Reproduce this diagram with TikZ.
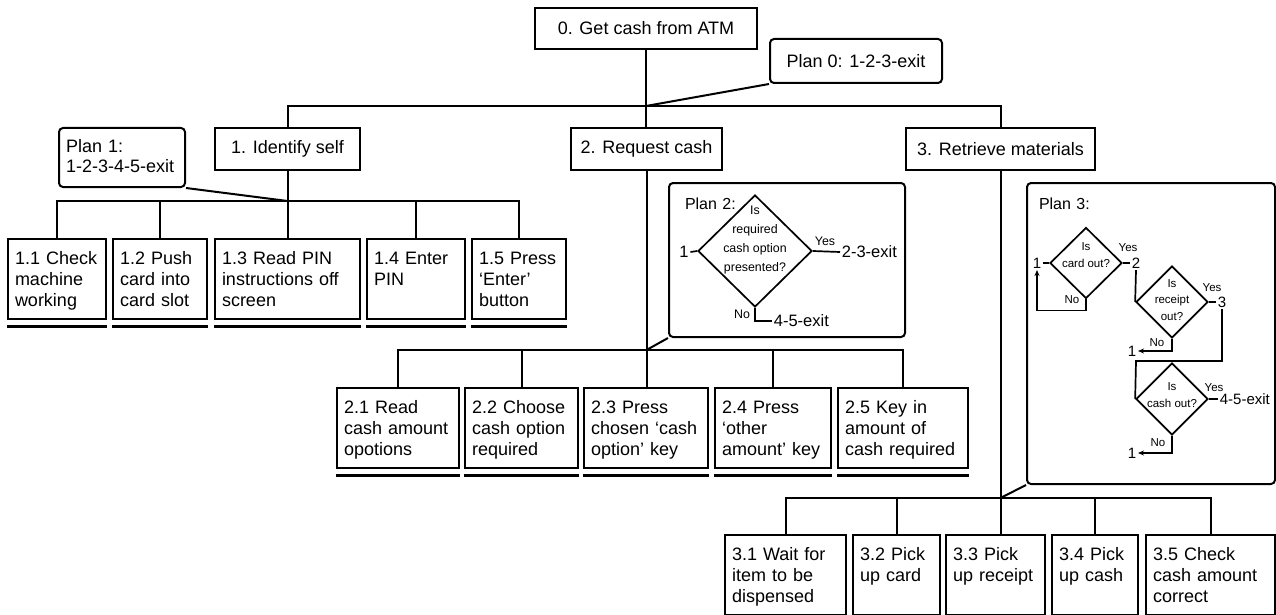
\documentclass[tikz,border=0pt]{standalone}
\usepackage{fontspec}
\setmainfont{Liberation Sans}
\usetikzlibrary{arrows.meta,shapes.geometric}

\begin{document}
\begin{tikzpicture}[x=1pt, y=-1pt, line width=2pt,
    >={Stealth[length=6pt, width=5pt]},
    task/.style={draw, anchor=north west, inner sep=0pt, minimum height=42pt,
      font=\fontsize{18}{21}\selectfont},
    leaf/.style={draw, anchor=north west, inner xsep=7pt, inner ysep=0pt,
      text width=#1, align=left, text height=25pt, text depth=55pt,
      font=\fontsize{18}{21}\selectfont},
    plan/.style={draw, rounded corners=4pt, anchor=north west, inner ysep=0pt, align=left},
    dline/.style={line width=2.5pt},
    choice/.style={draw, diamond, inner sep=0pt, line width=1.7pt},
    qtext/.style 2 args={align=center, inner sep=0pt, font=\fontsize{#1}{#2}\selectfont},
    yn/.style={inner sep=0pt, font=\fontsize{#1}{14}\selectfont},
    num/.style={inner sep=1pt, font=\fontsize{#1}{18}\selectfont}]
  \useasboundingbox (0,0) rectangle (1276,615);

  % top level
  \node[task, minimum width=222pt, minimum height=41pt] (t0) at (534,7) {0. Get cash from ATM};
  \node[plan, minimum width=172pt, minimum height=44pt, inner xsep=0pt,
        font=\fontsize{18}{21}\selectfont] (plan0) at (769,38) {Plan 0: 1-2-3-exit};
  \node[task, minimum width=145pt] (t1) at (214,127) {1. Identify self};
  \node[task, minimum width=151pt] (t2) at (570,127) {2. Request cash};
  \node[task, minimum width=189pt] (t3) at (905,127) {3. Retrieve materials};
  \node[plan, inner xsep=7pt, text width=112pt, text height=25pt, text depth=34pt,
        font=\fontsize{18}{20}\selectfont] (plan1) at (58,127) {Plan 1:\\\mbox{1-2-3-4-5-exit}};

  \coordinate (bar0) at (0,106);
  \coordinate (bar1) at (0,201);
  \coordinate (bar2) at (0,350);
  \coordinate (bar3) at (0,498);

  \draw (t0.south) -- (t0.south |- t2.north);
  \draw (t1.north) |- (t3.north |- bar0) -- (t3.north);
  \draw (plan0.south west) -- (t0.south |- bar0);

  % 1. identify self
  \node[leaf=84pt]  (c11) at (7,238)   {1.1 Check\\machine\\working};
  \node[leaf=80pt]  (c12) at (112,238) {1.2 Push\\card into\\card slot};
  \node[leaf=131pt] (c13) at (214,238) {1.3 Read PIN\\instructions off\\screen};
  \node[leaf=84pt]  (c14) at (366,238) {1.4 Enter\\PIN};
  \node[leaf=80pt]  (c15) at (471,238) {1.5 Press\\‘Enter’\\button};

  \draw (t1.south) -- (t1.south |- c13.north);
  \draw (c11.north) |- (c15.north |- bar1) -- (c15.north);
  \foreach \c in {c12,c14} \draw (\c.north) -- (\c.north |- bar1);
  \draw (plan1.south east) -- (t1.south |- bar1);

  % 2. request cash
  \node[leaf=108pt] (c21) at (336,387) {2.1 Read\\cash amount\\opotions};
  \node[leaf=99pt]  (c22) at (464,387) {2.2 Choose\\cash option\\required};
  \node[leaf=110pt] (c23) at (583,387) {2.3 Press\\chosen ‘cash\\option’ key};
  \node[leaf=102pt] (c24) at (714,387) {2.4 Press\\‘other\\amount’ key};
  \node[leaf=116pt] (c25) at (837,387) {2.5 Key in\\amount of\\cash~required};

  \draw (t2.south) -- (t2.south |- c23.north);
  \draw (c21.north) |- (c25.north |- bar2) -- (c25.north);
  \foreach \c in {c22,c24} \draw (\c.north) -- (\c.north |- bar2);

  \foreach \n in {c11,c12,c13,c14,c15,c21,c22,c23,c24,c25}
    \draw[dline] ([yshift=-6.5pt]\n.south west) -- ([yshift=-6.5pt]\n.south east);

  % 3. retrieve materials
  \node[leaf=107pt] (c31) at (724,534)  {3.1 Wait for\\item to be\\dispensed};
  \node[leaf=73pt]  (c32) at (852,534)  {3.2 Pick\\up card};
  \node[leaf=85pt]  (c33) at (945,534)  {3.3 Pick\\up receipt};
  \node[leaf=72pt]  (c34) at (1051,534) {3.4 Pick\\up cash};
  \node[leaf=115pt] (c35) at (1145,534) {3.5 Check\\cash amount\\correct};

  \draw (t3.south) -- (t3.south |- c33.north);
  \draw (c31.north) |- (c35.north |- bar3) -- (c35.north);
  \foreach \c in {c32,c34} \draw (\c.north) -- (\c.north |- bar3);

  % plan 2
  \node[plan, inner xsep=16pt, text width=204pt, text height=26pt, text depth=128pt,
        font=\fontsize{16}{18}\selectfont] (plan2) at (668,182) {Plan 2:};
  \draw (plan2.south west) -- (t2.south |- bar2);
  \begin{scope}[line width=1.7pt]
    \node[choice, minimum width=114pt, minimum height=112pt] (dq) at (755,251) {};
    \node[qtext={12.4}{18.7}] (dqtext) at (755,240) {Is\\required\\cash option\\presented?};
    \node[num=16.5] (q1) at (684,252) {1};
    \node[num=16.5, anchor=west] (qyes) at (840,252) {2-3-exit};
    \node[num=16.5, anchor=west] (qno) at (772,321) {4-5-exit};
    \node[yn=12.4] (qy) at (825,241) {Yes};
    \node[yn=12.4] (qn) at (742,314) {No};
    \draw (q1.east) -- (dq.west);
    \draw (dq.east) -- (qyes.west);
    \draw (dq.south) |- (qno.west);
  \end{scope}

  % plan 3
  \node[plan, inner xsep=12pt, text width=224pt, text height=26pt, text depth=275pt,
        font=\fontsize{16}{18}\selectfont] (plan3) at (1026,182) {Plan 3:};
  \draw (plan3.south west) -- (t3.south |- bar3);
  \begin{scope}[line width=1.7pt]
    \node[choice, minimum width=72pt, minimum height=71pt] (da) at (1086,263) {};
    \node[choice, minimum width=72pt, minimum height=72pt] (db) at (1172,302) {};
    \node[choice, minimum width=72pt, minimum height=72pt] (dc) at (1172,399) {};
    \node[qtext={11.5}{16.5}] (datext) at (1086,255) {Is\\card out?};
    \node[qtext={11.5}{16.5}] (dbtext) at (1172,300) {Is\\receipt\\out?};
    \node[qtext={11.5}{16.5}] (dctext) at (1172,395) {Is\\cash out?};
    \node[num=15] (a1) at (1037,263) {1};
    \node[num=15] (a2) at (1136,263) {2};
    \node[num=15] (b3) at (1222,302) {3};
    \node[num=15] (b1) at (1132,351) {1};
    \node[num=15, anchor=west] (cexit) at (1218,399) {4-5-exit};
    \node[num=15] (c1) at (1132,453) {1};
    \node[yn=11.5] (ay) at (1128,248) {Yes};
    \node[yn=11.5] (an) at (1072,300) {No};
    \node[yn=11.5] (by) at (1212,288) {Yes};
    \node[yn=11.5] (bn) at (1157,343) {No};
    \node[yn=11.5] (cy) at (1214,388) {Yes};
    \node[yn=11.5] (cn) at (1158,443) {No};
    \coordinate (turn) at (1136,361);
    \draw (a1.east) -- (da.west);
    \draw[->] (da.south) -- ++(0,11) -| (a1.south);
    \draw (da.east) -- (a2.west);
    \draw (a2.south) -- (db.west);
    \draw (db.east) -- (b3.west);
    \draw[->] (db.south) |- (b1.east);
    \draw (b3.south) |- (turn) -- (dc.west);
    \draw (dc.east) -- (cexit.west);
    \draw[->] (dc.south) |- (c1.east);
  \end{scope}
\end{tikzpicture}
\end{document}
